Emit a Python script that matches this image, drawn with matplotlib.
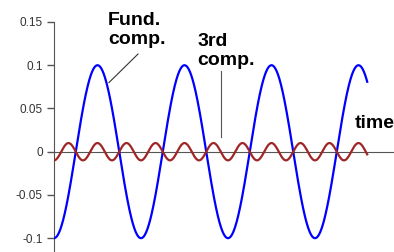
import numpy as np
import matplotlib
matplotlib.use('Agg')
import matplotlib.pyplot as plt

plt.rcParams['font.family'] = ['Liberation Sans', 'DejaVu Sans']

# Componentes (harmônica, amplitude, cor)
harmonicas = [1, 3]
amplitudes = [0.1, 0.01]
cores = ['#0000ff', '#a02525']
nomes = ['Fund.\ncomp.', '3rd\ncomp.']
ciclos = 3.6  # duração do sinal em ciclos da fundamental
yticks = [-0.1, -0.05, 0, 0.05, 0.1, 0.15]
ytick_labels = ['-0.1', '-0.05', '0', '0.05', '0.1', '0.15']

t = np.linspace(0, ciclos, 800)

fig = plt.figure(figsize=(3.94, 2.52), dpi=100)
ax = fig.add_axes([54 / 394, 0, 1 - 54 / 394, 1 - 22 / 252])

for h, a, c in zip(harmonicas, amplitudes, cores):
    ax.plot(t, -a * np.cos(2 * np.pi * h * t), color=c, lw=1.6, zorder=3)

ax.set_xlim(0, 340 / 87)
ax.set_ylim(-0.116, 0.15)

# Eixos
for s in ['top', 'right']:
    ax.spines[s].set_visible(False)
ax.spines['bottom'].set_position(('data', 0))
ax.spines['bottom'].set_color('#555555')
ax.spines['left'].set_color('#555555')
ax.set_xticks([])
ax.set_yticks(yticks)
ax.set_yticklabels(ytick_labels)
ax.tick_params(axis='y', length=5, width=1, color='#555555', labelsize=8.5,
               labelcolor='#333333', pad=3)

# Rótulos
ax.text(0.621, 0.1244, nomes[0], fontsize=14, fontweight='bold', va='baseline',
        ha='left', linespacing=1.15, clip_on=False)
ax.plot([0.966, 0.632], [0.113, 0.080], color='#333333', lw=0.8, clip_on=False)

ax.text(1.644, 0.100, nomes[1], fontsize=14, fontweight='bold', va='baseline',
        ha='left', linespacing=1.15, clip_on=False)
ax.plot([1.92, 1.92], [0.093, 0.0174], color='#555555', lw=0.8, clip_on=False)

ax.text(3.46, 0.0279, 'time', fontsize=14, fontweight='bold', va='baseline',
        ha='left', clip_on=False)

fig.savefig('out.png', dpi=100)
